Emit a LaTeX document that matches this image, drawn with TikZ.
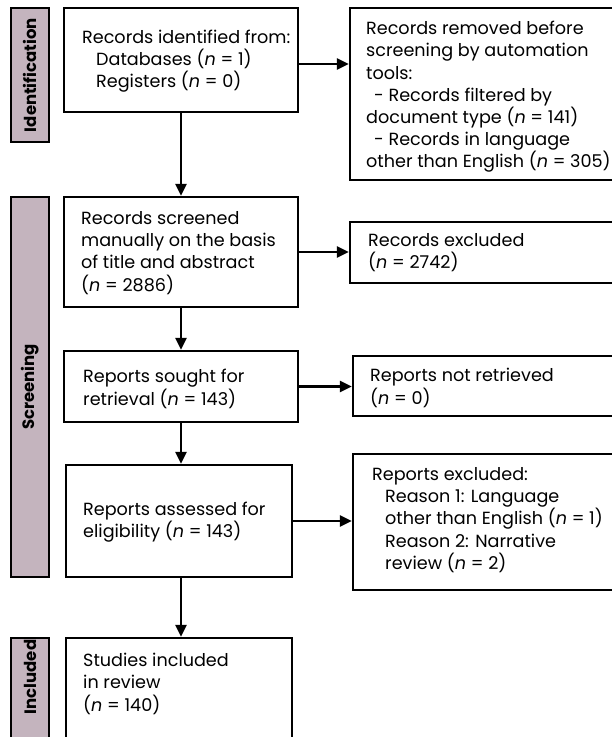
\documentclass[tikz,border=0pt]{standalone}
\usepackage{fontspec}
\setmainfont{Poppins}
\usetikzlibrary{arrows.meta}
\definecolor{barfill}{RGB}{196,180,190}
\begin{document}
\begin{tikzpicture}[x=1pt,y=-1pt,
  box/.style={draw=black, line width=2.4pt, fill=white, inner sep=0pt},
  bar/.style={draw=black, line width=2.4pt, fill=barfill, inner sep=0pt},
  txt/.style={inner sep=0pt, align=left, font=\fontsize{17.6}{22.2}\selectfont, anchor=west},
  lbl/.style={inner sep=0pt, rotate=90, font=\fontsize{16.5}{18}\selectfont\bfseries},
  arr/.style={line width=2.4pt, -{Triangle[length=12pt,width=11pt]}}]
\useasboundingbox (0,0) rectangle (612,737);
\clip (0,0) rectangle (612,737);
% phase bars
\node[bar, minimum width=38pt, minimum height=134pt] (bid) at (30,75) {};
\node[bar, minimum width=38pt, minimum height=380pt] (bsc) at (30,387) {};
\node[bar, minimum width=38pt, minimum height=112pt] (bin) at (30,694) {};
\node[lbl] (lid) at (bid.center) {Identification};
\node[lbl] (lsc) at (bsc.center) {Screening};
\node[lbl] (lin) at (30,677) {Included};
% boxes
\node[box, minimum width=234pt, minimum height=104pt] (b1) at (181,60) {};
\node[box, minimum width=266pt, minimum height=172pt] (b2) at (483,94) {};
\node[box, minimum width=234pt, minimum height=110pt] (b3) at (181,252) {};
\node[box, minimum width=266pt, minimum height=61pt] (b4) at (483,252.5) {};
\node[box, minimum width=234pt, minimum height=71pt] (b5) at (181,386.5) {};
\node[box, minimum width=263pt, minimum height=60pt] (b6) at (484.5,386) {};
\node[box, minimum width=226pt, minimum height=112pt] (b7) at (179,521) {};
\node[box, minimum width=263pt, minimum height=136pt] (b8) at (484.5,522) {};
\node[box, minimum width=226pt, minimum height=112pt] (b9) at (179,694) {};
% texts
\node[txt] (t1) at (82,61) {Records identified from:\\\hspace*{14pt}Databases (\textit{n} = 1)\\\hspace*{14pt}Registers (\textit{n} = 0)};
\node[txt] (t2) at (366,97) {Records removed before\\screening by automation\\tools:\\\hspace*{8pt}- Records filtered by\\document type (\textit{n} = 141)\\\hspace*{8pt}- Records in language\\other than English (\textit{n} = 305)};
\node[txt] (t3) at (81,253) {Records screened\\manually on the basis\\of title and abstract\\(\textit{n} = 2886)};
\node[txt] (t4) at (368,252.5) {Records excluded\\(\textit{n} = 2742)};
\node[txt] (t5) at (83,389) {Reports sought for\\retrieval (\textit{n} = 143)};
\node[txt] (t6) at (370,388) {Reports not retrieved\\(\textit{n} = 0)};
\node[txt] (t7) at (83,522) {Reports assessed for\\eligibility (\textit{n} = 143)};
\node[txt] (t8) at (372,520) {Reports excluded:\\\hspace*{13pt}Reason 1: Language\\\hspace*{13pt}other than English (\textit{n} = 1)\\\hspace*{13pt}Reason 2: Narrative\\\hspace*{13pt}review (\textit{n} = 2)};
\node[txt, anchor=north west] (t9) at (83,653) {Studies included\\in review\\(\textit{n} = 140)};
% connectors
\draw[arr] ([yshift=-4pt]b1.east) -- ([yshift=-4pt]b1.east -| b2.west);
\draw[arr] (b1.south) -- (b1.south |- b3.north);
\draw[arr] (b3.east) -- (b3.east -| b4.west);
\draw[arr] (b3.south) -- (b3.south |- b5.north);
\draw[arr] (b5.east) -- (b5.east -| b6.west);
\draw[arr] (b5.south) -- (b5.south |- b7.north);
\draw[arr] (b7.east) -- (b7.east -| b8.west);
\draw[arr] (b5.south |- b7.south) -- (b5.south |- b9.north);
\end{tikzpicture}
\end{document}
